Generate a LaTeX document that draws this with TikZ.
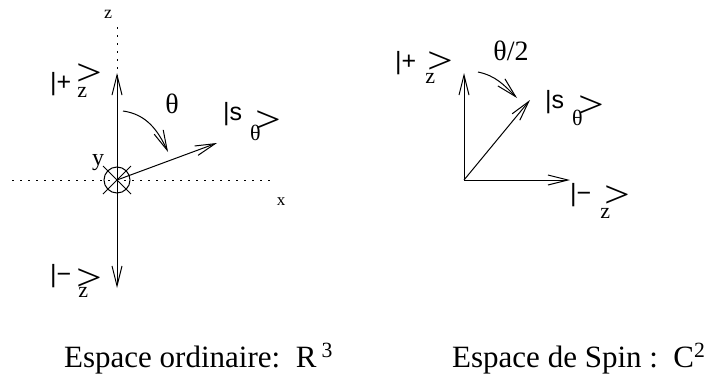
\documentclass[tikz,border=0pt]{standalone}
\usepackage{fontspec}
\usepackage{graphicx}
\setmainfont{Liberation Serif}
\newfontfamily\ketfont{Liberation Sans}
\usetikzlibrary{arrows.meta,calc}
\newcommand{\ketlab}[6]{{\ketfont\fontsize{25}{25}\selectfont #1}\hspace{#3}\raisebox{-#4}{\fontsize{22}{22}\selectfont #2}\hspace{#5}\raisebox{-#6}{\fontsize{38}{38}\selectfont\scalebox{1.2}[1]{>}}}

\begin{document}
\begin{tikzpicture}[x=1pt,y=1pt,>={Straight Barb[length=20pt,width=10pt]}]
  \tikzset{axis/.style={line width=1pt,dash pattern=on 2pt off 6pt},
    vec/.style={->,line width=1pt},
    ket/.style={anchor=base west,inner sep=0pt},
    tag/.style={anchor=base,inner sep=0pt},
    caption/.style={anchor=base west,inner sep=0pt,font=\fontsize{31}{31}\selectfont}}
  \useasboundingbox (0,0) rectangle (719,376);
  % ordinary space
  \coordinate (O1) at (117,196);
  \coordinate (ztop) at (117,349);
  \coordinate (zbot) at (117,86);
  \coordinate (xleft) at (12,196);
  \coordinate (xright) at (275,196);
  \coordinate (plus1) at (117,303);
  \coordinate (minus1) at (117,88);
  \coordinate (stheta1) at (217,233);
  \coordinate (arcA1) at (123,265);
  \coordinate (arcB1) at (168,224);
  \draw[axis] (xleft) -- (xright);
  \draw[axis] (ztop) -- (zbot);
  \draw[vec] (O1) -- (plus1);
  \draw[vec] (O1) -- (minus1);
  \draw[vec] (O1) -- (stheta1);
  \draw[vec] (arcA1) to[out=-8,in=115] (arcB1);
  \draw[line width=1pt] (O1) circle (13);
  \draw[line width=1pt] ($(O1)+(-14,-14)$) -- ($(O1)+(14,14)$);
  \draw[line width=1pt] ($(O1)+(-14,14)$) -- ($(O1)+(14,-14)$);
  \node[tag,font=\fontsize{18}{18}\selectfont] (zaxis) at (108,358) {z};
  \node[tag,font=\fontsize{17}{17}\selectfont] (xaxis) at (281,171) {x};
  \node[tag,font=\fontsize{24}{24}\selectfont] (yaxis) at (98,211) {y};
  \node[tag,font=\fontsize{28}{28}\selectfont] (angle1) at (172,263) {θ};
  \node[ket] (kplus1) at (50,286) {\ketlab{|+}{z}{6pt}{7pt}{-11pt}{-4.7pt}};
  \node[ket] (kminus1) at (50,94) {\ketlab{|−}{z}{7pt}{15pt}{-12pt}{8.3pt}};
  \node[ket] (ks1) at (223,256) {\ketlab{|s}{θ}{8pt}{20pt}{-5pt}{12.3pt}};
  % spin space
  \coordinate (O2) at (464,196);
  \coordinate (plus2) at (464,303);
  \coordinate (minus2) at (570,196);
  \coordinate (stheta2) at (530,276);
  \coordinate (arcA2) at (478,304);
  \coordinate (arcB2) at (517,278);
  \draw[vec] (O2) -- (plus2);
  \draw[vec] (O2) -- (minus2);
  \draw[vec] (O2) -- (stheta2);
  \draw[vec] (arcA2) to[out=-12,in=135] (arcB2);
  \node[tag,font=\fontsize{28}{28}\selectfont] (angle2) at (511,316) {θ/2};
  \node[ket] (kplus2) at (395,307) {\ketlab{|+}{z}{9pt}{14pt}{-8pt}{4.3pt}};
  \node[ket] (kminus2) at (570,175) {\ketlab{|−}{z}{9pt}{17pt}{-6pt}{6.3pt}};
  \node[ket] (ks2) at (545,268) {\ketlab{|s}{θ}{8pt}{17pt}{-4pt}{9.3pt}};
  \node[caption] (space1) at (64,9) {Espace ordinaire:~~R\,\textsuperscript{3}};
  \node[caption] (space2) at (452,9) {Espace de Spin :~~C\textsuperscript{2}};
\end{tikzpicture}
\end{document}
